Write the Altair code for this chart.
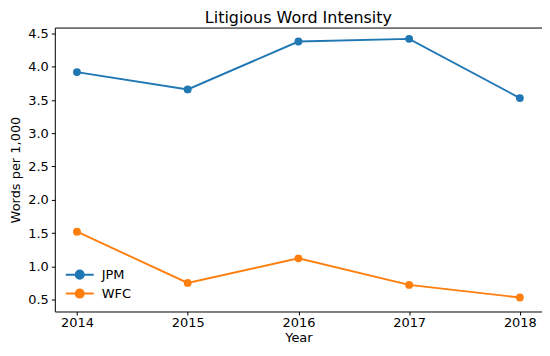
import altair as alt
import pandas as pd

years = [2014, 2015, 2016, 2017, 2018]
jpm = [3.92, 3.66, 4.38, 4.42, 3.53]
wfc = [1.52, 0.75, 1.12, 0.72, 0.53]
series = ["JPM", "WFC"]
colors = ["#1f77b4", "#ff7f0e"]
y_ticks = [0.5, 1.0, 1.5, 2.0, 2.5, 3.0, 3.5, 4.0, 4.5]

df = pd.DataFrame(
    {"Year": years * 2, "Value": jpm + wfc, "Bank": ["JPM"] * 5 + ["WFC"] * 5}
)

font = "DejaVu Sans"
fs = 13
sym = "M-2,0H2M0.58,0A0.58,0.58 0 1,1 -0.58,0A0.58,0.58 0 1,1 0.58,0Z"

x = alt.X(
    "Year:Q",
    scale=alt.Scale(domain=[2013.8, 2018.2], nice=False, zero=False),
    axis=alt.Axis(values=years, format="d", title="Year", grid=False, domain=False,
                  tickColor="black", tickSize=3.5, tickWidth=1, labelPadding=2,
                  labelColor="black", labelFontSize=fs, labelFont=font,
                  titleFont=font, titleFontSize=fs, titleFontWeight="normal",
                  titleColor="black", titlePadding=2),
)
y = alt.Y(
    "Value:Q",
    scale=alt.Scale(domain=[0.32, 4.59], nice=False, zero=False),
    axis=alt.Axis(values=y_ticks, format=".1f", title="Words per 1,000", grid=False,
                  domain=False, tickColor="black", tickSize=3.5, tickWidth=1,
                  labelPadding=3, labelColor="black", labelFontSize=fs,
                  labelFont=font, titleFont=font, titleFontSize=fs,
                  titleFontWeight="normal", titleColor="black", titlePadding=5),
)
color = alt.Color(
    "Bank:N",
    scale=alt.Scale(domain=series, range=colors),
    legend=alt.Legend(title=None, orient="none", legendX=17, legendY=240,
                      symbolType=sym, symbolSize=196, symbolStrokeWidth=2,
                      labelFont=font, labelFontSize=fs, labelColor="black",
                      rowPadding=1, labelOffset=14, padding=0),
)

lines = alt.Chart(df).mark_line(strokeWidth=1.9).encode(x=x, y=y, color=color)
points = alt.Chart(df).mark_point(filled=True, size=62, opacity=1).encode(
    x=x, y=y, color=color,
    fill=alt.Fill("Bank:N", scale=alt.Scale(domain=series, range=colors), legend=None),
)

chart = (
    alt.layer(lines, points)
    .properties(
        width=489,
        height=285,
        title=alt.Title("Litigious Word Intensity", font=font, fontSize=16,
                        fontWeight="normal", color="black", offset=2),
        autosize=alt.AutoSizeParams(type="none"),
        padding={"left": 47, "top": 19, "right": 0, "bottom": 36},
    )
    .configure_view(stroke="black", strokeWidth=1)
)

chart.save("out.html", embed_options={"renderer": "svg", "actions": False})
